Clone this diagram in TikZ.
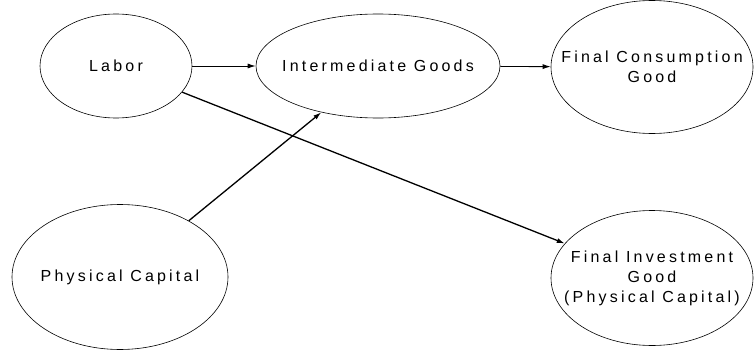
\documentclass[tikz,border=0pt]{standalone}
\usepackage{fontspec}
\newfontfamily\labelfont{Liberation Sans}[LetterSpace=20]
\usetikzlibrary{shapes.geometric,arrows.meta}
\begin{document}
\begin{tikzpicture}[x=1pt, y=-1pt,
    >={Latex[length=8pt,width=5pt]},
    sector/.style={ellipse, draw, line width=0.6pt, inner sep=-30pt, align=center,
        font={\labelfont\fontsize{16}{20}\selectfont}},
    flow/.style={->, line width=0.9pt},
    bigflow/.style={->, line width=1.3pt}
]
    \useasboundingbox (0,0) rectangle (754,353);

    % Top row: labour into intermediate goods into consumption
    \node[sector, minimum width=152pt, minimum height=104pt] (labor) at (116,66) {Labor};
    \node[sector, minimum width=244pt, minimum height=104pt] (inter) at (378,66) {Intermediate Goods};
    \node[sector, minimum width=202pt, minimum height=133pt] (fcons) at (652,67) {Final Consumption\\Good};

    % Bottom row
    \node[sector, minimum width=216pt, minimum height=145pt] (pcap) at (120,277) {Physical Capital};
    \node[sector, minimum width=202pt, minimum height=135pt] (finv) at (652,278) {Final Investment\\Good\\(Physical Capital)};

    % Arrows
    \draw[flow] (labor) -- (inter);
    \draw[flow] (inter) -- (fcons);
    \draw[bigflow] (labor) -- (finv);
    \draw[bigflow] (pcap) -- (inter);
\end{tikzpicture}
\end{document}
